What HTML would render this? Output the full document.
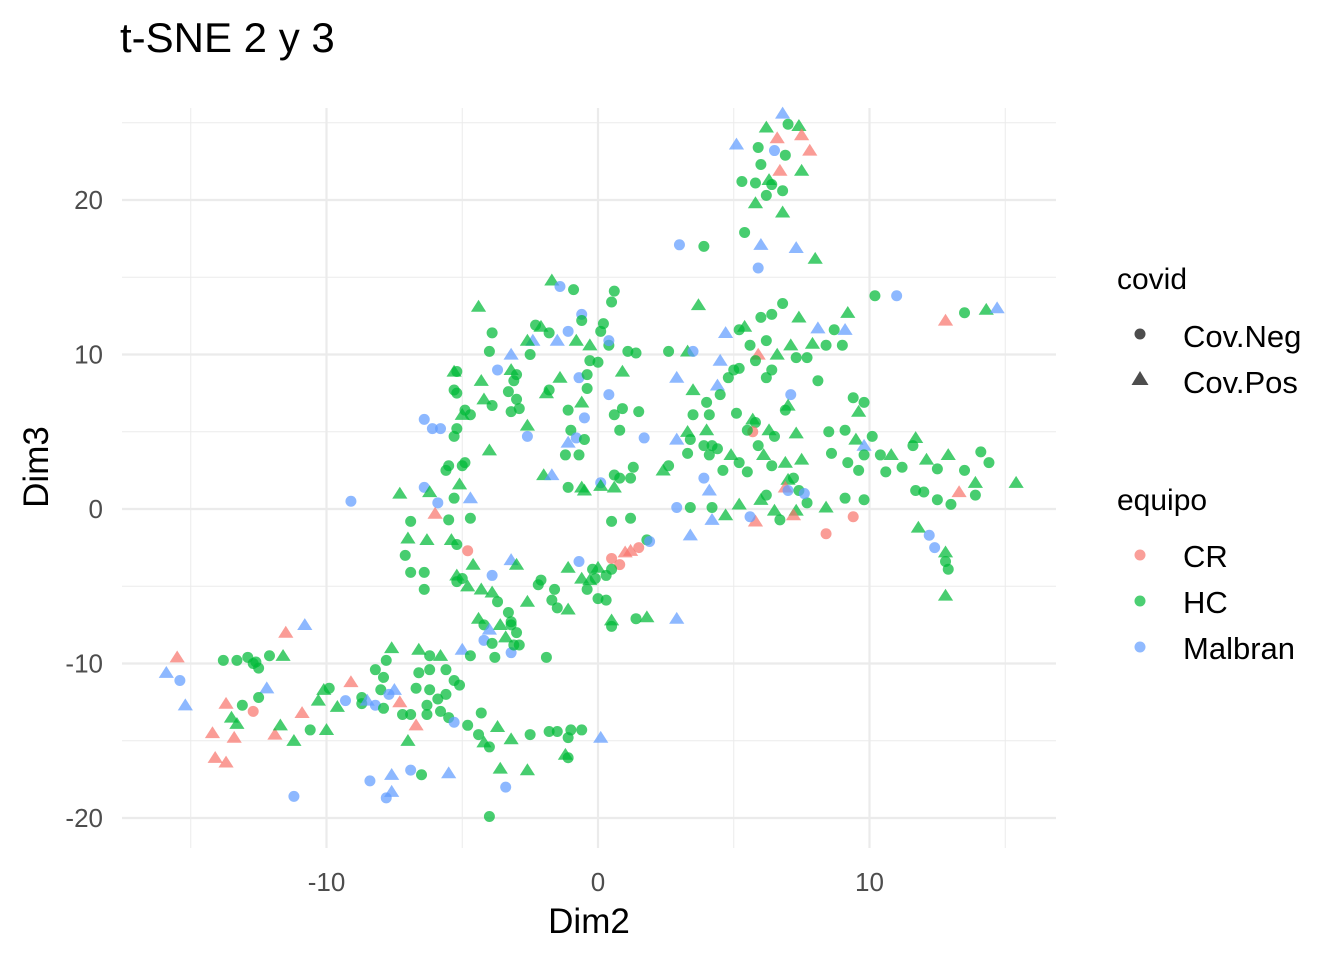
<!DOCTYPE html>
<html><head><meta charset="utf-8"><style>
html,body{margin:0;padding:0;background:#fff;}
svg text{font-family:"Liberation Sans",Arial,sans-serif;}
</style></head><body>
<svg id="chart" width="1344" height="960" viewBox="0 0 1344 960" xmlns="http://www.w3.org/2000/svg">
<rect width="1344" height="960" fill="#fff"/>
<g id="grid"></g>
<g id="points"></g>
<g id="axes"></g>
<text x="120" y="52" font-size="42" fill="#000">t-SNE 2 y 3</text>
<text x="589" y="933" font-size="35" text-anchor="middle" fill="#000">Dim2</text>
<text transform="translate(48,467) rotate(-90)" font-size="35" text-anchor="middle" fill="#000">Dim3</text>
<g>
<text x="1117" y="289" font-size="30" fill="#000">covid</text>
<g><circle cx="1140" cy="334" r="5.5" fill="#4D4D4D"/><text x="1183" y="347" font-size="31" fill="#000">Cov.Neg</text></g>
<g><polygon points="1140,371 1148.5,385 1131.5,385" fill="#4D4D4D"/><text x="1183" y="393" font-size="31" fill="#000">Cov.Pos</text></g>
</g>
<g>
<text x="1117" y="510" font-size="30" fill="#000">equipo</text>
<g><circle cx="1140" cy="555" r="5.5" fill="#F8766D" fill-opacity="0.7"/><text x="1183" y="567" font-size="31" fill="#000">CR</text></g>
<g><circle cx="1140" cy="601" r="5.5" fill="#00BA38" fill-opacity="0.7"/><text x="1183" y="613" font-size="31" fill="#000">HC</text></g>
<g><circle cx="1140" cy="647" r="5.5" fill="#619CFF" fill-opacity="0.7"/><text x="1183" y="659" font-size="31" fill="#000">Malbran</text></g>
</g>
</svg>
<script>
const xTicks = [-10, 0, 10];
const yTicks = [-20, -10, 0, 10, 20];
const xMinor = [-15, -5, 5, 15];
const yMinor = [-15, -5, 5, 15, 25];
const teamColors = {CR: "#F8766D", HC: "#00BA38", Malbran: "#619CFF"};
// [Dim2, Dim3, covid (N/P), equipo]
const obs = [
[6.8,25.6,"P","Malbran"],[6.2,24.7,"P","HC"],[7.4,24.8,"P","HC"],[7.0,24.9,"N","HC"],[6.6,24.0,"P","CR"],[7.5,24.2,"P","CR"],[7.8,23.2,"P","CR"],[5.1,23.6,"P","Malbran"],[5.9,23.4,"N","HC"],[6.5,23.2,"N","Malbran"],
[6.9,22.9,"N","HC"],[6.0,22.3,"N","HC"],[7.5,21.9,"P","HC"],[6.7,21.9,"P","CR"],[5.3,21.2,"N","HC"],[5.8,21.1,"N","HC"],[6.3,21.3,"P","HC"],[6.4,21.0,"N","HC"],[6.8,20.6,"N","HC"],[5.8,19.8,"P","HC"],
[6.2,20.3,"N","HC"],[6.8,19.2,"P","HC"],[5.4,17.9,"N","HC"],[6.0,17.1,"P","Malbran"],[7.3,16.9,"P","Malbran"],[8.0,16.2,"P","HC"],[5.9,15.6,"N","Malbran"],[3.0,17.1,"N","Malbran"],[3.9,17.0,"N","HC"],
[10.2,13.8,"N","HC"],[11.0,13.8,"N","Malbran"],[12.8,12.2,"P","CR"],[13.5,12.7,"N","HC"],[14.3,12.9,"P","HC"],[14.7,13.0,"P","Malbran"],
[3.7,13.2,"P","HC"],[5.4,11.8,"P","HC"],[6.0,12.4,"N","HC"],[6.8,13.3,"N","HC"],[6.4,12.6,"N","HC"],[7.4,12.4,"P","HC"],[5.2,11.6,"N","HC"],[4.7,11.4,"P","Malbran"],[5.6,10.6,"N","HC"],[6.2,10.9,"N","HC"],
[7.1,10.6,"P","HC"],[7.9,10.7,"P","HC"],[8.1,11.7,"P","Malbran"],[8.7,11.6,"N","HC"],[9.1,11.6,"P","Malbran"],[8.4,10.6,"N","HC"],[9.0,10.6,"N","HC"],[9.2,12.7,"P","HC"],[5.9,10.0,"P","CR"],[5.8,9.6,"N","HC"],
[6.6,10.0,"P","HC"],[7.3,9.8,"N","HC"],[7.7,9.8,"N","HC"],[3.3,10.2,"P","HC"],[2.6,10.2,"N","HC"],[3.5,10.2,"N","Malbran"],[4.5,9.6,"P","Malbran"],[5.0,9.0,"N","HC"],[5.2,9.1,"N","HC"],[4.8,8.5,"N","HC"],
[4.4,8.0,"P","Malbran"],[6.2,8.5,"N","HC"],[7.1,7.4,"N","Malbran"],[8.1,8.3,"N","HC"],[3.5,7.7,"P","HC"],[4.0,6.9,"N","HC"],[4.5,7.4,"N","HC"],[7.0,6.7,"P","HC"],[6.9,6.4,"N","HC"],[9.4,7.2,"N","HC"],
[9.8,6.9,"N","HC"],[9.6,6.3,"P","HC"],[5.1,6.2,"N","HC"],[5.7,5.8,"P","HC"],[3.5,6.1,"N","HC"],[4.1,6.1,"N","HC"],[5.8,5.6,"N","HC"],[3.3,5.0,"P","HC"],[4.0,5.1,"P","HC"],[5.7,5.0,"N","CR"],
[6.3,5.1,"P","HC"],[6.5,4.7,"N","HC"],[8.5,5.0,"N","HC"],[9.1,5.1,"N","HC"],[7.3,4.9,"P","HC"],[5.9,4.1,"N","HC"],[3.4,4.5,"N","HC"],[2.9,4.5,"P","Malbran"],[3.3,3.6,"N","HC"],[3.9,4.1,"N","HC"],
[4.2,4.1,"N","HC"],[4.4,3.9,"N","HC"],[4.1,3.5,"N","HC"],[4.9,3.5,"P","HC"],[5.2,3.0,"N","HC"],[5.5,2.4,"N","HC"],[6.1,3.5,"P","HC"],[6.4,2.8,"N","HC"],[6.9,3.0,"P","HC"],[7.5,3.2,"P","HC"],
[8.6,3.6,"N","HC"],[9.5,4.5,"P","HC"],[9.8,4.1,"P","Malbran"],[10.1,4.7,"N","HC"],[9.2,3.0,"N","HC"],[9.6,2.5,"N","HC"],[9.8,3.5,"N","HC"],[10.4,3.5,"N","HC"],[10.8,3.5,"P","HC"],[11.6,4.1,"N","HC"],
[11.7,4.6,"P","HC"],[12.1,3.2,"P","HC"],[11.2,2.7,"N","HC"],[10.6,2.4,"N","HC"],[12.5,2.6,"N","HC"],[12.9,3.5,"P","HC"],[13.5,2.5,"N","HC"],[14.1,3.7,"N","HC"],[14.4,3.0,"N","HC"],[15.4,1.7,"P","HC"],
[13.9,1.7,"P","HC"],[13.3,1.1,"P","CR"],[13.9,0.9,"N","HC"],[13.0,0.3,"N","HC"],[12.5,0.6,"N","HC"],[11.7,1.2,"N","HC"],[12.0,1.1,"N","HC"],[11.8,-1.2,"P","HC"],[12.2,-1.7,"N","Malbran"],[12.4,-2.5,"N","Malbran"],
[12.8,-2.8,"P","HC"],[12.8,-3.4,"N","HC"],[12.9,-3.9,"N","HC"],[12.8,-5.6,"P","HC"],[9.8,0.6,"N","HC"],[9.1,0.7,"N","HC"],[8.4,0.1,"P","HC"],[9.4,-0.5,"N","CR"],[8.4,-1.6,"N","CR"],[7.7,0.4,"N","HC"],
[7.4,1.2,"N","HC"],[7.0,1.9,"P","HC"],[7.2,2.0,"N","HC"],[6.9,1.4,"P","CR"],[7.0,1.2,"N","Malbran"],[7.6,1.0,"N","Malbran"],[7.3,-0.1,"P","HC"],[7.2,-0.4,"P","CR"],[6.5,-0.1,"P","HC"],[6.7,-0.7,"N","HC"],
[5.8,-0.8,"P","CR"],[5.6,-0.5,"N","Malbran"],[6.2,0.9,"N","HC"],[6.0,0.6,"P","HC"],[5.2,0.3,"P","HC"],[4.7,-0.4,"P","HC"],[4.2,0.1,"N","HC"],[4.2,-0.7,"P","Malbran"],[3.4,-1.7,"P","Malbran"],[3.4,0.1,"N","HC"],
[2.9,0.1,"N","Malbran"],[2.4,2.5,"P","HC"],[2.6,2.8,"N","HC"],[1.3,2.7,"N","HC"],[0.8,2.0,"N","HC"],[3.9,2.0,"N","Malbran"],[4.1,1.2,"P","Malbran"],[5.5,5.1,"N","HC"],[4.6,2.5,"N","HC"],[6.4,9.0,"N","HC"],[2.9,8.5,"P","Malbran"],
[-1.7,14.8,"P","HC"],[-1.4,14.4,"N","Malbran"],[-0.9,14.2,"N","HC"],[0.6,14.1,"N","HC"],[0.5,13.4,"N","HC"],[-0.6,12.6,"N","Malbran"],[-0.6,12.2,"N","HC"],[-4.4,13.1,"P","HC"],[-2.3,11.9,"N","HC"],[-2.1,11.8,"P","HC"],
[-3.9,11.4,"N","HC"],[-1.8,11.4,"N","HC"],[-1.1,11.5,"N","Malbran"],[0.2,12.0,"N","HC"],[0.1,11.5,"N","HC"],[-0.8,10.9,"P","HC"],[-0.3,10.6,"P","HC"],[0.4,10.6,"N","HC"],[0.4,10.9,"N","Malbran"],[-2.4,10.9,"P","Malbran"],
[-2.6,10.9,"P","HC"],[-1.5,10.9,"P","Malbran"],[-4.0,10.2,"N","HC"],[-3.2,10.0,"P","Malbran"],[-2.5,10.0,"N","HC"],[1.1,10.2,"N","HC"],[1.4,10.1,"N","HC"],[0.0,9.5,"N","HC"],[-0.3,9.6,"N","HC"],[-3.7,9.0,"N","Malbran"],
[-3.2,9.0,"P","HC"],[-5.3,8.9,"P","HC"],[-5.2,8.9,"N","HC"],[-3.1,8.3,"N","HC"],[-3.0,8.7,"N","HC"],[-1.4,8.5,"P","HC"],[-0.7,8.5,"N","Malbran"],[-0.4,8.7,"N","HC"],[0.9,8.9,"P","HC"],[-4.3,8.3,"P","HC"],
[-1.8,7.7,"N","HC"],[-5.3,7.7,"N","HC"],[-5.2,7.5,"N","HC"],[-1.9,7.5,"P","HC"],[-0.4,7.8,"N","HC"],[0.4,7.4,"N","Malbran"],[-3.3,7.6,"N","HC"],[-3.0,7.1,"N","HC"],[-2.9,6.5,"N","HC"],[-4.2,7.1,"P","HC"],
[-3.9,6.7,"N","HC"],[-3.2,6.3,"N","HC"],[-4.9,6.4,"N","HC"],[-4.7,6.1,"N","HC"],[-5.0,6.1,"P","HC"],[-1.1,6.4,"N","HC"],[-0.6,6.9,"P","HC"],[-0.5,5.9,"N","Malbran"],[0.6,6.1,"N","HC"],[0.9,6.5,"N","HC"],
[1.5,6.3,"N","HC"],[0.8,5.1,"N","HC"],[-2.6,5.4,"P","HC"],[-6.4,5.8,"N","Malbran"],[-6.1,5.2,"N","Malbran"],[-5.8,5.2,"N","Malbran"],[-5.2,5.2,"N","HC"],[-5.3,4.7,"N","HC"],[-2.6,4.7,"N","Malbran"],[-1.0,5.1,"N","HC"],
[-1.1,4.3,"P","Malbran"],[-0.8,4.6,"N","Malbran"],[-0.5,4.5,"N","HC"],[-4.0,3.8,"P","HC"],[-1.2,3.5,"N","HC"],[-0.7,3.5,"N","HC"],[1.7,4.6,"N","Malbran"],[-5.5,2.8,"N","HC"],[-5.6,2.5,"N","HC"],[-5.0,2.8,"N","HC"],
[-4.9,3.0,"N","HC"],[-2.0,2.2,"P","HC"],[-1.7,2.2,"P","Malbran"],[0.1,1.7,"N","Malbran"],[0.6,2.2,"N","HC"],[1.2,2.0,"N","HC"],[-1.1,1.4,"N","HC"],[-0.6,1.4,"P","HC"],[0.1,1.5,"P","HC"],[-0.5,1.2,"P","HC"],
[0.6,1.4,"P","HC"],[-6.4,1.4,"N","Malbran"],[-6.2,1.1,"P","HC"],[-7.3,1.0,"P","HC"],[-5.1,1.6,"P","HC"],[-4.7,0.7,"P","Malbran"],[-5.3,0.7,"N","HC"],[-5.9,0.4,"N","Malbran"],[-9.1,0.5,"N","Malbran"],[-4.7,-0.6,"N","HC"],
[-6.0,-0.3,"P","CR"],[-6.9,-0.8,"N","HC"],[-5.5,-0.7,"N","HC"],[0.5,-0.8,"N","HC"],[1.2,-0.6,"N","HC"],[-6.3,-2.0,"P","HC"],[-7.0,-1.9,"P","HC"],[-5.4,-2.0,"P","HC"],[-5.2,-2.3,"N","HC"],[-7.1,-3.0,"N","HC"],[-4.8,-2.7,"N","CR"],
[1.8,-2.0,"N","HC"],[1.9,-2.1,"N","Malbran"],[1.5,-2.5,"N","CR"],[1.2,-2.7,"P","CR"],[1.0,-2.8,"P","CR"],[0.5,-3.2,"N","CR"],[0.8,-3.6,"N","CR"],[0.5,-3.9,"N","HC"],[0.0,-3.8,"P","HC"],[-0.2,-3.9,"N","HC"],
[-0.7,-3.4,"N","Malbran"],[-0.6,-4.5,"P","HC"],[-0.3,-4.6,"P","HC"],[-0.1,-4.5,"N","HC"],[0.3,-4.3,"N","HC"],[-1.1,-3.8,"P","HC"],[-1.6,-5.2,"N","HC"],[-2.1,-4.6,"N","HC"],[-2.2,-4.9,"N","HC"],[-1.7,-5.9,"N","HC"],
[-1.5,-6.4,"N","HC"],[-1.1,-6.5,"P","HC"],[-0.4,-5.2,"N","HC"],[0.0,-5.8,"N","HC"],[0.3,-5.9,"N","HC"],[0.5,-7.2,"P","HC"],[0.5,-7.6,"N","HC"],[1.4,-7.1,"N","HC"],[1.8,-7.0,"P","HC"],[2.9,-7.1,"P","Malbran"],
[-2.6,-6.0,"P","HC"],[-3.2,-3.3,"P","Malbran"],[-3.0,-3.6,"P","HC"],[-3.9,-4.3,"N","Malbran"],[-4.6,-3.6,"P","HC"],[-5.0,-4.5,"N","HC"],[-5.2,-4.7,"N","HC"],[-4.8,-5.0,"P","HC"],[-4.3,-5.2,"P","HC"],[-3.9,-5.4,"P","HC"],
[-6.4,-4.1,"N","HC"],[-6.9,-4.1,"N","HC"],[-6.4,-5.2,"N","HC"],[-5.2,-4.3,"P","HC"],[-3.7,-6.0,"N","HC"],[-4.4,-7.1,"P","HC"],[-4.2,-7.5,"N","HC"],[-3.6,-7.5,"P","HC"],[-3.3,-6.7,"N","HC"],[-3.2,-7.3,"N","HC"],
[-4.0,-7.8,"P","Malbran"],[-4.2,-8.5,"N","Malbran"],[-3.9,-8.7,"N","HC"],[-3.2,-7.5,"N","HC"],[-3.0,-8.0,"N","HC"],[-3.4,-8.3,"P","HC"],[-2.9,-8.8,"N","HC"],[-1.9,-9.6,"N","HC"],[-3.2,-9.3,"N","Malbran"],[-5.0,-9.1,"P","Malbran"],
[-4.7,-9.5,"N","HC"],[-3.8,-9.6,"N","HC"],
[-15.9,-10.6,"P","Malbran"],[-15.5,-9.6,"P","CR"],[-15.4,-11.1,"N","Malbran"],[-15.2,-12.7,"P","Malbran"],[-13.8,-9.8,"N","HC"],[-13.3,-9.8,"N","HC"],[-12.9,-9.6,"N","HC"],[-12.6,-9.9,"N","HC"],[-12.1,-9.5,"N","HC"],[-11.6,-9.5,"P","HC"],
[-11.5,-8.0,"P","CR"],[-10.8,-7.5,"P","Malbran"],[-12.5,-10.3,"N","HC"],[-12.7,-10.0,"N","HC"],[-12.2,-11.6,"P","Malbran"],[-12.5,-12.2,"N","HC"],[-13.7,-12.6,"P","CR"],[-13.1,-12.7,"N","HC"],[-13.5,-13.5,"P","HC"],[-13.3,-13.9,"P","HC"],
[-12.7,-13.1,"N","CR"],[-14.2,-14.5,"P","CR"],[-13.4,-14.8,"P","CR"],[-14.1,-16.1,"P","CR"],[-13.7,-16.4,"P","CR"],[-11.9,-14.6,"P","CR"],[-11.7,-14.0,"P","HC"],[-11.2,-15.0,"P","HC"],[-11.2,-18.6,"N","Malbran"],[-10.9,-13.2,"P","CR"],
[-10.6,-14.3,"N","HC"],[-10.3,-12.4,"P","HC"],[-10.1,-11.7,"P","HC"],[-9.9,-11.6,"N","HC"],[-9.6,-12.8,"P","HC"],[-10.0,-14.3,"P","HC"],[-9.3,-12.4,"N","Malbran"],[-9.1,-11.2,"P","CR"],[-8.7,-12.2,"N","HC"],[-8.7,-12.6,"N","HC"],
[-8.5,-12.4,"P","Malbran"],[-8.2,-12.7,"N","Malbran"],[-8.0,-11.7,"N","HC"],[-7.9,-10.9,"N","HC"],[-7.8,-9.8,"N","HC"],[-7.6,-9.0,"P","HC"],[-8.2,-10.4,"N","HC"],[-7.5,-11.7,"P","Malbran"],[-7.7,-12.0,"N","Malbran"],[-7.3,-12.5,"P","CR"],
[-7.2,-13.3,"N","HC"],[-7.9,-12.9,"N","HC"],[-6.6,-9.1,"P","HC"],[-6.2,-9.5,"N","HC"],[-5.8,-9.5,"P","HC"],[-6.2,-10.4,"N","HC"],[-6.6,-10.6,"N","HC"],[-5.6,-10.4,"N","HC"],[-5.3,-11.1,"N","HC"],[-5.1,-11.4,"N","HC"],
[-6.2,-11.7,"N","HC"],[-6.7,-11.6,"N","HC"],[-5.9,-12.3,"N","HC"],[-5.6,-12.0,"N","HC"],[-6.3,-12.7,"N","HC"],[-6.9,-13.3,"N","HC"],[-6.7,-14.0,"P","CR"],[-6.3,-13.3,"N","HC"],[-5.8,-13.1,"N","HC"],[-5.5,-13.5,"N","HC"],
[-5.3,-13.8,"N","Malbran"],[-7.0,-15.0,"P","HC"],[-6.5,-17.2,"N","HC"],[-6.9,-16.9,"N","Malbran"],[-5.5,-17.1,"P","Malbran"],[-7.6,-17.2,"P","Malbran"],[-7.8,-18.7,"N","Malbran"],[-7.6,-18.3,"P","Malbran"],[-8.4,-17.6,"N","Malbran"],[-4.8,-14.0,"N","HC"],
[-4.3,-13.2,"N","HC"],[-4.2,-15.1,"P","HC"],[-4.0,-15.4,"N","HC"],[-3.7,-14.1,"P","HC"],[-3.6,-16.8,"P","HC"],[-3.2,-14.9,"P","HC"],[-2.6,-16.9,"P","HC"],[-3.4,-18.0,"N","Malbran"],[-4.0,-19.9,"N","HC"],[-2.5,-14.6,"N","HC"],
[-1.8,-14.4,"N","HC"],[-1.5,-14.4,"N","HC"],[-1.0,-14.3,"N","HC"],[-1.1,-14.8,"N","HC"],[-0.6,-14.3,"N","HC"],[-1.2,-15.9,"P","HC"],[-1.1,-16.1,"N","HC"],[0.1,-14.8,"P","Malbran"],[-4.4,-14.6,"N","HC"],[-3.1,-8.8,"N","HC"]
];

const NS = "http://www.w3.org/2000/svg";
const panel = {x0:122, x1:1056, y0:108, y1:848};
function sx(v){ return 598 + v * 27.15; }
function sy(v){ return 509 - v * 15.45; }
function mk(tag, attrs, parent){
  const e = document.createElementNS(NS, tag);
  for (const k in attrs) e.setAttribute(k, attrs[k]);
  parent.appendChild(e);
  return e;
}
const grid = document.getElementById("grid");
const axes = document.getElementById("axes");
const pts = document.getElementById("points");

xMinor.forEach(v => {
  const l = mk("line", {x1:sx(v), x2:sx(v), y1:panel.y0, y2:panel.y1, stroke:"#EBEBEB", "stroke-width":1}, grid);
  
  
});
yMinor.forEach(v => {
  const l = mk("line", {x1:panel.x0, x2:panel.x1, y1:sy(v), y2:sy(v), stroke:"#EBEBEB", "stroke-width":1}, grid);
  
  
});
xTicks.forEach(v => {
  const l = mk("line", {x1:sx(v), x2:sx(v), y1:panel.y0, y2:panel.y1, stroke:"#EBEBEB", "stroke-width":2.2}, grid);
  
  
  const t = mk("text", {x:sx(v), y:891, "font-size":26, fill:"#4D4D4D", "text-anchor":"middle"}, axes);
  t.textContent = String(v);
  
  
});
yTicks.forEach(v => {
  const l = mk("line", {x1:panel.x0, x2:panel.x1, y1:sy(v), y2:sy(v), stroke:"#EBEBEB", "stroke-width":2.2}, grid);
  
  
  const t = mk("text", {x:103, y:sy(v)+9, "font-size":26, fill:"#4D4D4D", "text-anchor":"end"}, axes);
  t.textContent = String(v);
  
  
});

obs.forEach(d => {
  const cx = sx(d[0]), cy = sy(d[1]);
  const col = teamColors[d[3]];
  let e;
  if (d[2] === "N") {
    e = mk("circle", {cx:cx, cy:cy, r:5.5, fill:col, "fill-opacity":0.72}, pts);
    
  } else {
    const h = 6.8;
    e = mk("polygon", {points:`${cx},${cy-h} ${cx+7.6},${cy+h*0.75} ${cx-7.6},${cy+h*0.75}`, fill:col, "fill-opacity":0.72}, pts);
    
  }
  
});
</script>
</body></html>
